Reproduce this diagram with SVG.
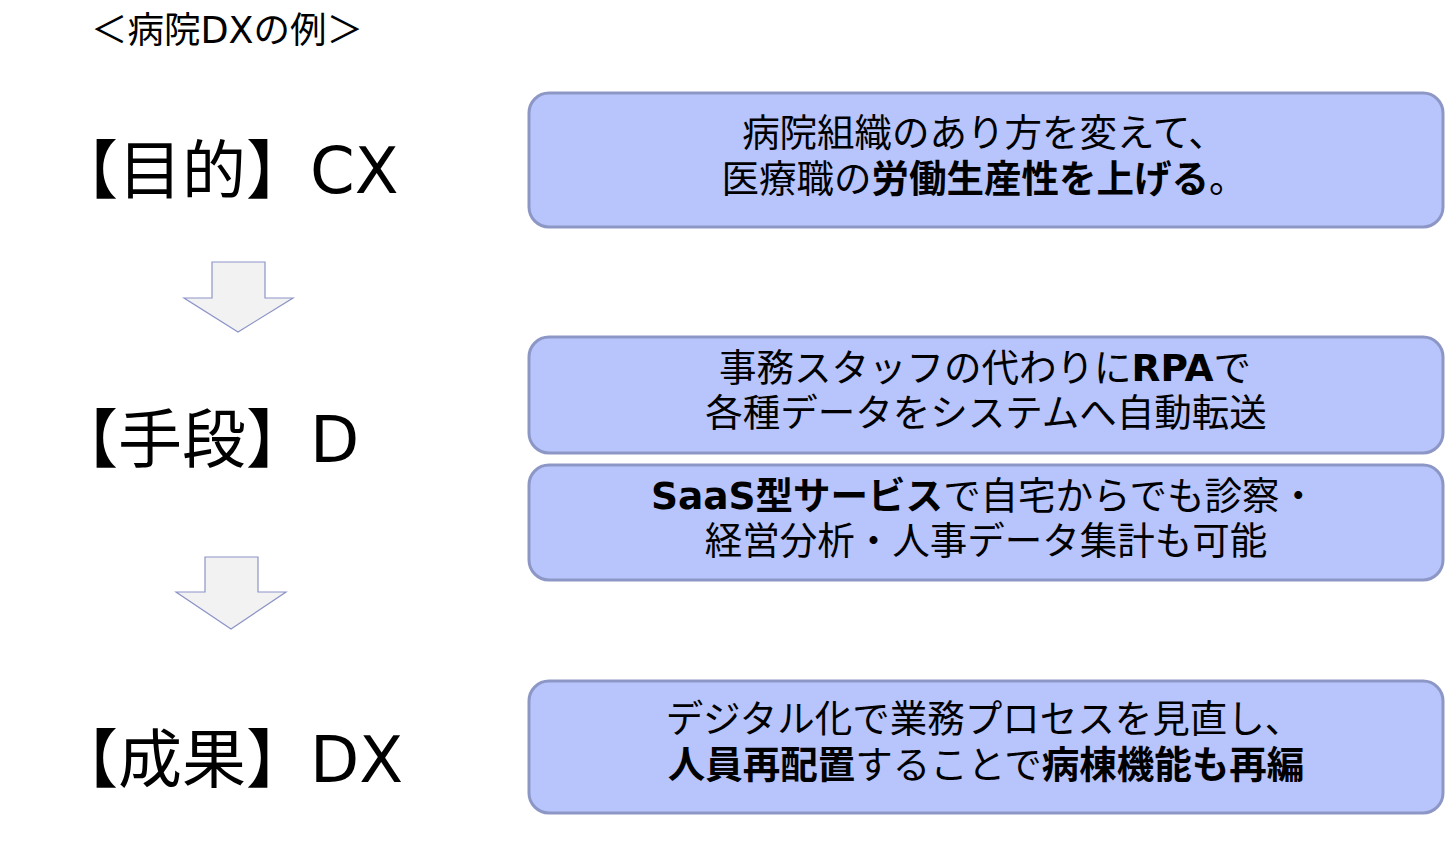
<svg xmlns="http://www.w3.org/2000/svg" width="1445" height="845" viewBox="0 0 1445 845">
<style>
.box{fill:#b8c4fc;stroke:#8d97c6;stroke-width:3}
.arrow{fill:#f2f2f2;stroke:#8c94c8;stroke-width:1.2}
text{font-family:"DejaVu Sans","Noto Sans CJK JP",sans-serif;fill:#000}
.lbl{font-size:64px}
.bt{font-size:37.5px;text-anchor:middle}
.title{font-size:36.5px}
.b{font-weight:bold}
</style>
<rect width="1445" height="845" fill="#fff"/>
<text class="title" x="91" y="43">＜病院DXの例＞</text>
<g id="label-cx"><text class="lbl" x="54" y="193">【目的】CX</text></g>
<g id="label-d"><text class="lbl" x="54" y="462">【手段】D</text></g>
<g id="label-dx"><text class="lbl" x="54" y="782">【成果】DX</text></g>
<g id="connectors">
<path class="arrow" d="M212,262 H265 V298 H293 L238,332 L184,298 H212 Z"/>
<path class="arrow" d="M205,557 H258 V592 H286 L231,629 L176,592 H205 Z"/>
</g>
<g id="box1">
<rect class="box" x="529" y="93" width="914" height="134" rx="20"/>
<text class="bt" x="984" y="146">病院組織のあり方を変えて、</text>
<text class="bt" x="984" y="192">医療職の<tspan class="b">労働生産性を上げる</tspan>。</text>
</g>
<g id="box2">
<rect class="box" x="529" y="337" width="914" height="116" rx="20"/>
<text class="bt" x="985" y="381">事務スタッフの代わりに<tspan class="b">RPA</tspan>で</text>
<text class="bt" x="986" y="426">各種データをシステムへ自動転送</text>
</g>
<g id="box3">
<rect class="box" x="529" y="465" width="914" height="115" rx="20"/>
<text class="bt" x="984" y="509"><tspan class="b">SaaS型サービス</tspan>で自宅からでも診察・</text>
<text class="bt" x="986" y="554">経営分析・人事データ集計も可能</text>
</g>
<g id="box4">
<rect class="box" x="529" y="681" width="914" height="132" rx="20"/>
<text class="bt" x="984" y="732">デジタル化で業務プロセスを見直し、</text>
<text class="bt" x="986" y="778"><tspan class="b">人員再配置</tspan>することで<tspan class="b">病棟機能も再編</tspan></text>
</g>
</svg>
